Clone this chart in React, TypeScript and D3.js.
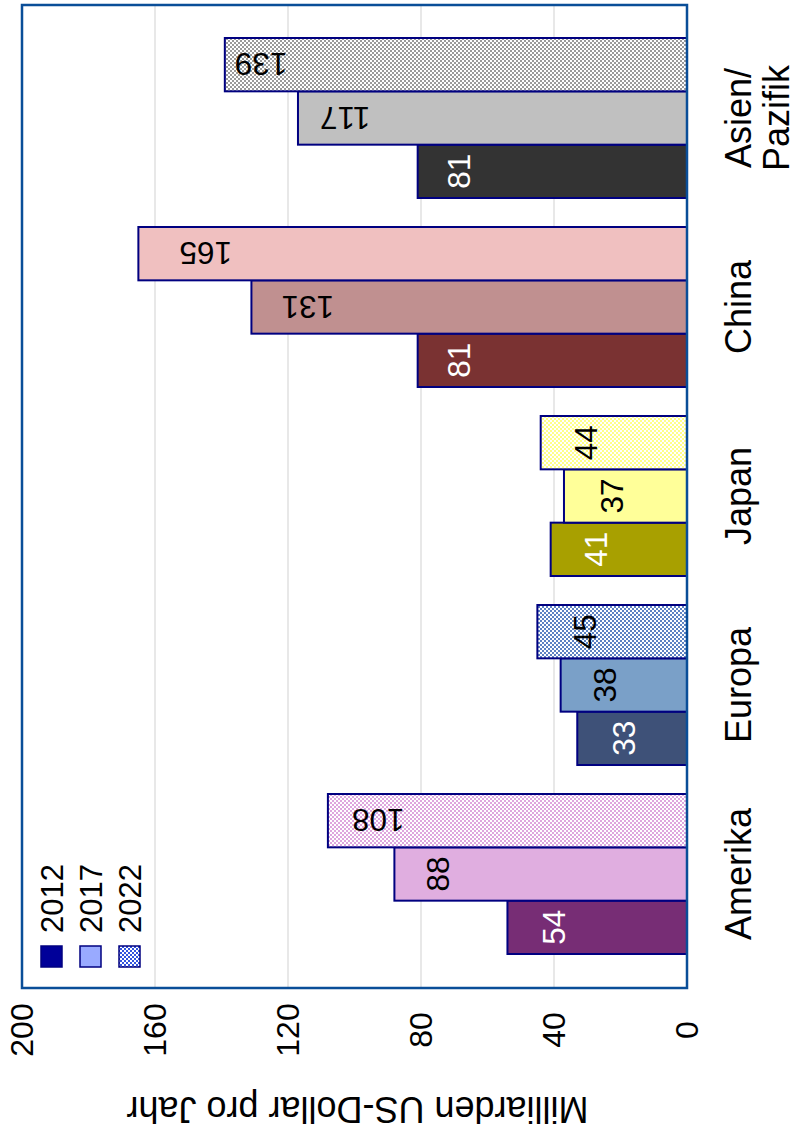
import React from "react";
import * as d3 from "d3";

// ---- data ----
const categories = ["Amerika", "Europa", "Japan", "China", "Asien/Pazifik"];
const categoryLines = [["Amerika"], ["Europa"], ["Japan"], ["China"], ["Asien/", "Pazifik"]];
const years = ["2012", "2017", "2022"];
const values2012 = [54, 33, 41, 81, 81];
const values2017 = [88, 38, 37, 131, 117];
const values2022 = [108, 45, 44, 165, 139];
const tickValues = [0, 40, 80, 120, 160, 200];
const gridValues = [40, 80, 120, 160];
const axisTitle = "Milliarden US-Dollar pro Jahr";

// ---- styles / label placement (gap in px between bar end and label) ----
const colors2012 = ["#772d75", "#3e5178", "#a8a000", "#7a3232", "#333333"];
const colors2017 = ["#e0aee0", "#7aa0c8", "#ffff99", "#c09090", "#c0c0c0"];
const colors2022 = ["#dea6de", "#5d82c2", "#ffff88", "#f0c0c0", "#9a9a9a"];
const pattern2022 = [true, true, true, false, true];
const gaps2012 = [35, 35, 34, 30, 30];
const gaps2017 = [32, 33, 36, 30, 22];
const gaps2022 = [24, 36, 34, 41, 10];
const labelColor2012 = "#ffffff";
const labelColor = "#000000";
const legendColors = ["#000099", "#99aaff", "#3355dd"];

const W = 797;
const H = 1138;
const FONT = "'Liberation Sans', Arial, Helvetica, sans-serif";

export default function App() {
  const x = d3.scaleLinear().domain([0, 200]).range([687, 22]);
  const pInner = 29 / 189;
  const y0 = d3
    .scaleBand<string>()
    .domain(categories)
    .range([968.5, 23.5])
    .paddingInner(pInner)
    .paddingOuter(pInner / 2);
  const y1 = d3
    .scaleBand<string>()
    .domain(["2022", "2017", "2012"])
    .range([0, y0.bandwidth()]);

  const series = [
    { year: "2012", values: values2012, fills: colors2012, gaps: gaps2012, textFill: labelColor2012 },
    { year: "2017", values: values2017, fills: colors2017, gaps: gaps2017, textFill: labelColor },
    {
      year: "2022",
      values: values2022,
      fills: colors2022.map((c, i) => (pattern2022[i] ? `url(#chk-${i})` : c)),
      gaps: gaps2022,
      textFill: labelColor,
    },
  ];

  const valFs = 31.5;
  const cap = 0.716;
  const bh = y1.bandwidth();

  return (
    <svg
      width={W}
      height={H}
      style={{ position: "absolute", left: 0, top: 0, background: "#ffffff" }}
      fontFamily={FONT}
    >
      <defs>
        {colors2022.map((c, i) => (
          <pattern key={i} id={`chk-${i}`} width={4} height={4} patternUnits="userSpaceOnUse">
            <rect width={4} height={4} fill="#ffffff" />
            <rect x={0} y={0} width={2} height={2} fill={c} />
            <rect x={2} y={2} width={2} height={2} fill={c} />
          </pattern>
        ))}
        <pattern id="chk-legend" width={4} height={4} patternUnits="userSpaceOnUse">
          <rect width={4} height={4} fill="#ffffff" />
          <rect x={0} y={0} width={2} height={2} fill={legendColors[2]} />
          <rect x={2} y={2} width={2} height={2} fill={legendColors[2]} />
        </pattern>
      </defs>

      {/* grid */}
      {gridValues.map((v) => (
        <line key={v} x1={x(v)} x2={x(v)} y1={5} y2={988} stroke="#d9d9d9" strokeWidth={1.2} />
      ))}

      {/* bars */}
      {categories.map((cat, ci) =>
        series.map((s) => {
          const v = s.values[ci];
          const yTop = (y0(cat) as number) + (y1(s.year) as number);
          return (
            <rect
              key={cat + s.year}
              x={x(v)}
              y={yTop}
              width={x(0) - x(v)}
              height={bh}
              fill={s.fills[ci]}
              stroke="#000080"
              strokeWidth={2}
            />
          );
        })
      )}

      {/* value labels */}
      {categories.map((cat, ci) =>
        series.map((s) => {
          const v = s.values[ci];
          const yc = (y0(cat) as number) + (y1(s.year) as number) + bh / 2;
          const gap = s.gaps[ci];
          if (v < 100) {
            const bx = x(v) + gap + valFs * cap;
            return (
              <text
                key={"l" + cat + s.year}
                transform={`translate(${bx},${yc}) rotate(-90)`}
                textAnchor="middle"
                fontSize={valFs}
                fill={s.textFill}
              >
                {v}
              </text>
            );
          }
          const px = x(v) + gap;
          return (
            <text
              key={"l" + cat + s.year}
              transform={`translate(${px},${yc - (valFs * cap) / 2}) rotate(180)`}
              textAnchor="end"
              fontSize={valFs}
              fill={s.textFill}
            >
              {v}
            </text>
          );
        })
      )}

      {/* frame */}
      <rect x={22} y={5} width={665} height={983} fill="none" stroke="#0a4e98" strokeWidth={2.5} />

      {/* legend */}
      {years.map((yr, i) => {
        const lx = 41 + i * 39;
        return (
          <g key={yr}>
            <rect
              x={lx}
              y={946}
              width={21}
              height={21}
              fill={i === 2 ? "url(#chk-legend)" : legendColors[i]}
              stroke="#000080"
              strokeWidth={1.5}
            />
            <text
              transform={`translate(${lx + 22},${933}) rotate(-90)`}
              textAnchor="start"
              fontSize={31}
              fill="#000"
            >
              {yr}
            </text>
          </g>
        );
      })}

      {/* tick labels */}
      {tickValues.map((t) => (
        <text
          key={t}
          transform={`translate(${x(t) + (32 * cap) / 2},${1030}) rotate(-90)`}
          textAnchor="middle"
          fontSize={32}
          fill="#000"
        >
          {t}
        </text>
      ))}

      {/* category labels */}
      {categories.map((cat, ci) => {
        const yc = (y0(cat) as number) + y0.bandwidth() / 2;
        return categoryLines[ci].map((ln, li) => (
          <text
            key={cat + li}
            transform={`translate(${751 + li * 38},${yc}) rotate(-90)`}
            textAnchor="middle"
            fontSize={36}
            fill="#000"
          >
            {ln}
          </text>
        ));
      })}

      {/* axis title */}
      <text
        transform={`translate(357.5,1097) rotate(180)`}
        textAnchor="middle"
        fontSize={36}
        fill="#000"
      >
        {axisTitle}
      </text>
    </svg>
  );
}
